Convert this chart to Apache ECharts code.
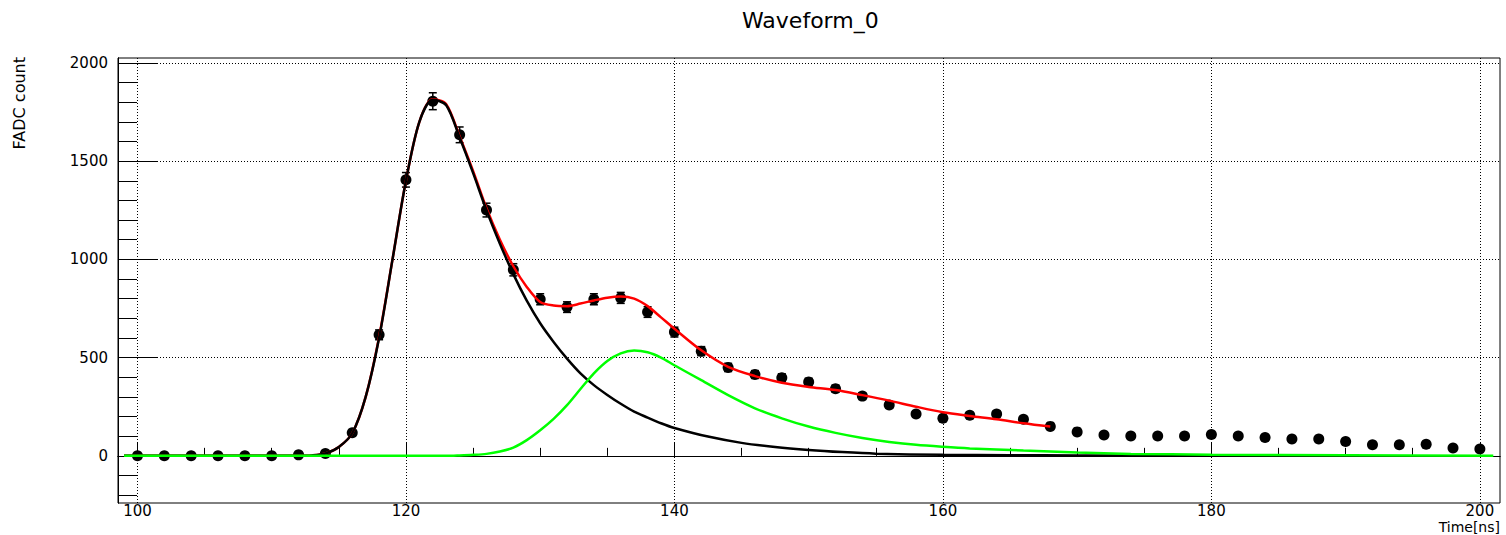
<!DOCTYPE html>
<html><head><meta charset="utf-8">
<script src="https://cdn.jsdelivr.net/npm/echarts@6/dist/echarts.min.js"></script>
<style>html,body{margin:0;padding:0;background:#fff}#c{width:1506px;height:535px}</style>
</head><body><div id="c"></div>
<script>
const chartTitle = 'Waveform_0';
const xAxisName = 'Time[ns]';
const yAxisName = 'FADC count';
const xMajorTicks = [100, 120, 140, 160, 180, 200];
const xMinorTicks = [100, 105, 110, 115, 120, 125, 130, 135, 140, 145, 150, 155, 160, 165, 170, 175, 180, 185, 190, 195, 200];
const yMajorTicks = [0, 500, 1000, 1500, 2000];
const yMinorTicks = [-200, -100, 0, 100, 200, 300, 400, 500, 600, 700, 800, 900, 1000, 1100, 1200, 1300, 1400, 1500, 1600, 1700, 1800, 1900, 2000];

const pointTimes = [100,102,104,106,108,110,112,114,116,118,120,122,124,126,128,130,132,134,136,138,140,142,144,146,148,150,152,154,156,158,160,162,164,166,168,170,172,174,176,178,180,182,184,186,188,190,192,194,196,198,200];
const pointCounts = [0,0,0,0,0,0,5,12,117,616,1405,1805,1634,1251,947,797,757,797,804,732,630,533,450,414,398,376,342,304,259,213,191,207,213,186,150,122,106,101,101,101,109,101,93,86,86,73,57,57,59,40,35];
const pointErrors = [0,0,0,0,0,0,2,3,11,25,37,43,40,35,31,28,27,28,28,27,25,23,21,20,20,19,18,17,16,15,14,14,15,14,12,11,10,10,10,10,10,10,10,9,9,9,8,8,8,6,6];

const totalFitX = [99,112,113,114,115,116,117,118,119,120,121,122,123,124,125,126,127,128,129,130,131,132,133,134,135,136,137,138,139,140,142,144,146,148,150,152,154,156,158,160,162,164,166,168];
const totalFitY = [0,0,2,12,45,115,300,605,1000,1400,1700,1815,1790,1625,1450,1260,1100,965,860,783,765,762,775,791,805,811,800,762,705,647,537,453,406,372,351,335,309,281,250,222,203,186,166,149];

const pulse1X = [99,112,113,114,115,116,117,118,119,120,121,122,123,124,125,126,127,128,129,130,131,132,133,134,135,136,137,138,139,140,142.5,145,147.5,150,152.5,155,160,165,170,180,191];
const pulse1Y = [0,0,2,12,45,115,300,600,1000,1400,1700,1812,1785,1620,1440,1250,1080,925,790,675,580,495,420,360,310,265,225,195,166,142,98,66,45,30,19,11,5,3,2,1,0];

const pulse2X = [99,123,124,125,126,127,128,129,130,131,132,133,134,135,136,137,138,139,140,142,144,146,148,150,152,154,156,158,160,162,166,170,174,180,190,201];
const pulse2Y = [0,0,2,5,10,22,42,80,130,188,258,340,420,483,522,536,527,500,461,385,309,242,191,149,117,91,71,56,46,38,27,17,10,6,3,1];

const FONT = 'DejaVu Sans';
const zip = (a, b) => a.map((v, i) => [v, b[i]]);

const chart = echarts.init(document.getElementById('c'), null, {renderer: 'svg'});
const X_MIN = 98.55, X_MAX = 201.5, Y_MIN = -240, Y_MAX = 2025;

const dotted = {show: true, lineStyle: {color: '#000', width: 1, type: [1, 2]}};
const axisLine = {show: true, lineStyle: {color: '#000', width: 1}};
const plain = v => String(v);

chart.setOption({
  backgroundColor: '#fff',
  animation: false,
  title: {
    text: chartTitle, left: 737, top: 4,
    textStyle: {fontFamily: FONT, fontSize: 22, fontWeight: 'normal', color: '#000'}
  },
  graphic: [
    {type: 'text', x: 1500, y: 520, style: {text: xAxisName, fontFamily: FONT, fontSize: 14, lineHeight: 14, fill: '#000', align: 'right', verticalAlign: 'top'}},
    {type: 'text', x: 19, y: 57, rotation: Math.PI / 2, style: {text: yAxisName, fontFamily: FONT, fontSize: 16, fill: '#000', align: 'right', verticalAlign: 'middle'}}
  ],
  grid: {left: 118, right: 6, top: 58, bottom: 32, show: true, borderColor: '#000', borderWidth: 1, backgroundColor: 'transparent'},
  xAxis: [
    {type: 'value', min: X_MIN, max: X_MAX, position: 'bottom', axisLine,
     axisTick: {show: true, inside: true, length: 13, customValues: xMajorTicks, lineStyle: {color: '#000', width: 1}},
     axisLabel: {show: true, customValues: xMajorTicks, margin: 1, color: '#000', fontFamily: FONT, fontSize: 15, lineHeight: 14, formatter: plain},
     splitLine: dotted},
    {type: 'value', min: X_MIN, max: X_MAX, position: 'bottom', axisLine,
     axisTick: {show: true, inside: true, length: 8, customValues: xMinorTicks, lineStyle: {color: '#000', width: 1}},
     axisLabel: {show: false}, splitLine: {show: false}}
  ],
  yAxis: [
    {type: 'value', min: Y_MIN, max: Y_MAX, position: 'left', axisLine,
     axisTick: {show: true, inside: true, length: 40, customValues: yMajorTicks, lineStyle: {color: '#000', width: 1}},
     axisLabel: {show: true, customValues: yMajorTicks, margin: 10, color: '#000', fontFamily: FONT, fontSize: 15, formatter: plain},
     splitLine: dotted},
    {type: 'value', min: Y_MIN, max: Y_MAX, position: 'left', axisLine,
     axisTick: {show: true, inside: true, length: 19, customValues: yMinorTicks, lineStyle: {color: '#000', width: 1}},
     axisLabel: {show: false}, splitLine: {show: false}}
  ],
  series: [
    {type: 'custom', name: 'errors', xAxisIndex: 0, yAxisIndex: 0, z: 2,
     data: pointTimes.map((t, i) => [t, pointCounts[i], pointErrors[i]]),
     renderItem(params, api) {
       const x = api.value(0), y = api.value(1), e = api.value(2);
       if (!e) return null;
       const top = api.coord([x, y + e]), bot = api.coord([x, y - e]);
       const c = 4, st = {stroke: '#000', lineWidth: 1.5};
       return {type: 'group', children: [
         {type: 'line', shape: {x1: top[0], y1: top[1], x2: bot[0], y2: bot[1]}, style: st},
         {type: 'line', shape: {x1: top[0] - c, y1: top[1], x2: top[0] + c, y2: top[1]}, style: st},
         {type: 'line', shape: {x1: bot[0] - c, y1: bot[1], x2: bot[0] + c, y2: bot[1]}, style: st}
       ]};
     }},
    {type: 'scatter', name: 'data', xAxisIndex: 0, yAxisIndex: 0, z: 3,
     symbol: 'circle', symbolSize: 11, itemStyle: {color: '#000', opacity: 1, borderWidth: 0},
     data: zip(pointTimes, pointCounts)},
    {type: 'line', name: 'total fit', xAxisIndex: 0, yAxisIndex: 0, z: 4, showSymbol: false,
     smooth: 0.3, lineStyle: {color: '#ff0000', width: 2.5}, data: zip(totalFitX, totalFitY)},
    {type: 'line', name: 'pulse 1', xAxisIndex: 0, yAxisIndex: 0, z: 5, showSymbol: false,
     smooth: 0.3, lineStyle: {color: '#000000', width: 2.5}, data: zip(pulse1X, pulse1Y)},
    {type: 'line', name: 'pulse 2', xAxisIndex: 0, yAxisIndex: 0, z: 6, showSymbol: false,
     smooth: 0.3, lineStyle: {color: '#00ff00', width: 2.5}, data: zip(pulse2X, pulse2Y)}
  ]
});
</script>
</body></html>
